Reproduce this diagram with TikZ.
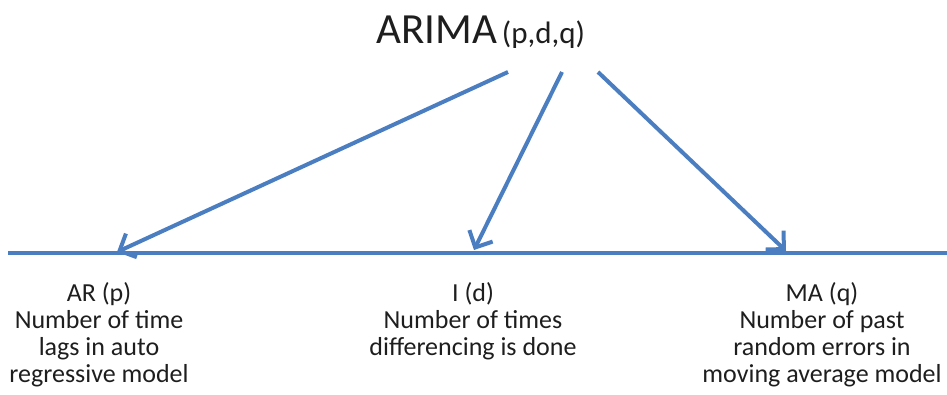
\documentclass[tikz,border=0pt]{standalone}
\usepackage{fontspec}
\setmainfont{Carlito}
\usetikzlibrary{arrows.meta}
\definecolor{arrowblue}{RGB}{74,126,193}
\definecolor{txt}{RGB}{30,30,30}
\begin{document}
\begin{tikzpicture}[x=1pt,y=-1pt,
  conn/.style={draw=arrowblue,line width=4pt,-{Straight Barb[length=13pt,width=26pt,line width=4pt]}},
  desc/.style={inner sep=0pt,align=center,text=txt,font=\fontsize{26}{26.7}\selectfont,anchor=base},
]
\useasboundingbox (0,0) rectangle (947,394);
\node[inner sep=0pt,anchor=base west,text=txt] (title) at (376,43)
  {{\fontsize{43}{48}\selectfont ARIMA}\hspace{5pt}{\fontsize{31}{34}\selectfont (p,d,q)}};
\coordinate (sL) at (508,72);
\coordinate (sM) at (562,72);
\coordinate (sR) at (598,72);
\coordinate (lineA) at (8,253);
\coordinate (lineB) at (947,253);
\coordinate (tL) at (117,252);
\coordinate (tM) at (474,250);
\coordinate (tR) at (786,251);
\draw[draw=arrowblue,line width=4pt] (lineA) -- (lineB);
\draw[conn] (sL) -- (tL);
\draw[conn] (sM) -- (tM);
\draw[conn] (sR) -- (tR);
\node[desc] (ar) at (99,382) {AR (p)\\Number of time\\lags in auto\\regressive model};
\node[desc] (i) at (473,355) {I (d)\\Number of times\\differencing is done};
\node[desc] (ma) at (822,382) {MA (q)\\Number of past\\random errors in\\moving average model};
\end{tikzpicture}
\end{document}
